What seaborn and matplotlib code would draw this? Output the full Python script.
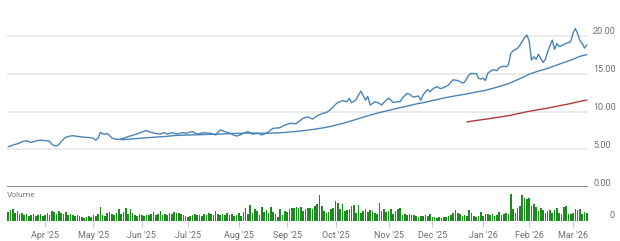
import numpy as np
import pandas as pd
import matplotlib
matplotlib.use("Agg")
import matplotlib.pyplot as plt
import matplotlib.transforms as mtransforms
import seaborn as sns

# ---------------- data ----------------
holidays = ["2025-04-18", "2025-05-26", "2025-06-19", "2025-07-04", "2025-09-01",
            "2025-11-27", "2025-12-25", "2026-01-01", "2026-01-19", "2026-02-16"]
dates = pd.bdate_range("2025-03-10", "2026-03-10", freq="C", holidays=holidays)

close = [
    5.34, 5.42, 5.55, 5.65, 5.72, 5.85, 5.98, 6.08, 6.13, 6.00,
    5.90, 6.00, 6.10, 6.15, 6.20, 6.18, 6.15, 6.12, 6.05, 5.65,
    5.47, 5.45, 5.62, 6.00, 6.35, 6.58, 6.68, 6.75, 6.80, 6.75,
    6.70, 6.67, 6.62, 6.60, 6.58, 6.55, 6.50, 6.45, 6.20, 6.45,
    7.24, 7.05, 6.98, 7.10, 6.80, 6.50, 6.36, 6.30, 6.32, 6.38,
    6.45, 6.55, 6.67, 6.75, 6.85, 6.95, 7.05, 7.15, 7.28, 7.40,
    7.46, 7.35, 7.24, 7.15, 7.10, 7.05, 7.00, 7.15, 7.20, 7.00,
    7.10, 7.20, 7.12, 7.02, 7.05, 7.15, 7.20, 7.10, 7.18, 7.28,
    7.33, 7.15, 7.00, 7.08, 7.15, 7.20, 7.15, 7.12, 7.10, 7.00,
    6.90, 7.25, 7.55, 7.45, 7.33, 7.25, 7.15, 7.00, 6.85, 6.75,
    6.82, 6.95, 7.10, 7.24, 7.33, 7.15, 7.00, 7.05, 7.10, 7.05,
    6.90, 7.00, 7.15, 7.30, 7.60, 7.78, 7.80, 7.82, 7.86, 8.05,
    8.20, 8.30, 8.40, 8.45, 8.38, 8.40, 8.65, 8.90, 9.10, 9.20,
    9.30, 9.15, 9.00, 9.20, 9.44, 9.55, 9.70, 9.80, 9.88, 10.05,
    10.30, 10.60, 10.95, 11.20, 11.30, 11.45, 11.35, 11.30, 11.75, 11.17,
    11.35, 11.60, 12.20, 12.70, 12.10, 11.50, 12.00, 10.86, 11.05, 11.30,
    11.20, 11.05, 10.86, 11.20, 11.50, 11.75, 11.50, 11.20, 11.25, 11.30,
    11.30, 11.80, 12.10, 12.40, 12.30, 12.05, 11.90, 12.00, 12.05, 11.50,
    12.20, 12.60, 12.90, 12.60, 12.95, 13.15, 13.30, 13.10, 13.05, 13.20,
    13.35, 13.50, 13.90, 14.20, 14.15, 14.10, 13.95, 13.75, 13.90, 14.40,
    14.90, 15.06, 15.00, 15.06, 14.40, 14.30, 14.40, 14.10, 15.06, 15.30,
    15.50, 15.50, 15.40, 15.80, 15.95, 16.00, 15.93, 16.16, 17.70, 18.05,
    18.20, 18.40, 18.80, 19.30, 19.80, 20.13, 19.30, 16.80, 17.25, 16.90,
    17.60, 17.00, 16.50, 16.90, 17.90, 18.70, 19.47, 18.24, 19.00, 18.60,
    18.75, 18.85, 19.05, 19.10, 19.25, 20.35, 21.00, 20.30, 19.40, 19.00,
    18.40, 18.85,
]

volume_m = [
    9, 11, 12, 8, 10, 7, 8, 6, 7, 5, 6, 7, 5, 6, 7, 5,
    6, 8, 6, 10, 9, 7, 10, 8, 7, 9, 6, 7, 6, 5, 6, 5, 4, 3, 4, 5, 4, 6,
    5, 7, 14, 6, 5, 8, 9, 7, 6, 8, 12, 7, 9,
    13, 7, 12, 8, 6, 5, 7, 6, 5, 6,
    6, 7, 9, 6, 7, 10, 6, 7, 6, 8, 7, 9, 8, 8, 7, 6, 5, 4, 5, 6,
    7, 6, 6, 5, 7, 6, 8, 7, 6, 10, 7, 6, 7, 6, 8, 6, 7, 5, 6, 8,
    5, 9, 13, 7, 16, 8, 12, 10, 6, 14, 9, 11, 8, 14, 9, 7, 4, 12, 6, 10,
    9, 12, 13, 13, 14,
    13, 14, 10, 12, 13, 13, 12, 15, 17,
    26, 15, 10, 8, 9, 12, 13, 20, 18, 12, 17, 10, 11, 12, 15, 16, 8, 16, 8, 10,
    12, 9, 11, 10, 8, 7, 18,
    10, 12, 9, 10, 12, 7, 10, 12, 13,
    6, 7, 6, 7, 6, 6, 5, 4, 5, 5,
    6, 5, 7, 4, 4, 3, 4, 3, 4, 4,
    5, 6, 8, 11, 8, 7, 5, 6, 5, 11,
    8, 5, 4, 5, 9, 5, 7, 7, 6, 7,
    5, 6, 9, 6, 7, 8, 7,
    27,
    12, 8, 13, 15, 26, 23, 22, 23, 15, 17, 14, 10, 13, 11, 8, 10, 11, 8, 11, 13,
    8, 7, 14, 15, 7, 7, 8, 12, 11, 12, 7, 9, 8,
]

price_ticks = [0, 5, 10, 15, 20]
price_tick_labels = ["0.00", "5.00", "10.00", "15.00", "20.00"]

# ---------------- styling ----------------
sns.set_theme(style="white")
plt.rcParams["font.family"] = ["Roboto", "DejaVu Sans"]

n = min(len(dates), len(close), len(volume_m))
df = pd.DataFrame({
    "idx": np.arange(n),
    "date": dates[:n],
    "close": close[:n],
    "volume": volume_m[:n],
})
df["ma50"] = df["close"].rolling(50).mean()
df["ma200"] = df["close"].rolling(200).mean()

W, H = 620, 241
fig = plt.figure(figsize=(W / 100, H / 100), dpi=100)


def rect(x0, y0, x1, y1):
    return [x0 / W, 1 - y1 / H, (x1 - x0) / W, (y1 - y0) / H]


ax = fig.add_axes(rect(7, 5, 588, 187))
axv = fig.add_axes(rect(7, 191, 588, 221))

xlim = (-0.5, n - 0.5)
grid_c = "#e9e9e9"
text_c = "#6f6f6f"

# price panel
for v in price_ticks[1:]:
    ax.axhline(v, color=grid_c, lw=1.3, zorder=0)
ax.axhline(0, color="#7d7d7d", lw=2.0, zorder=1)

blue = "#4a84b6"
sns.lineplot(data=df, x="idx", y="close", ax=ax, color=blue, lw=1.0, legend=False)
sns.lineplot(data=df, x="idx", y="ma50", ax=ax, color=blue, lw=1.0, legend=False)
sns.lineplot(data=df, x="idx", y="ma200", ax=ax, color="#b03a3a", lw=1.0, legend=False)

ax.set_xlim(*xlim)
ax.set_ylim(0, (187 - 5) / 7.55)
ax.set_xticks([])
ax.set_yticks([])
ax.set_xlabel("")
ax.set_ylabel("")
for s in ax.spines.values():
    s.set_visible(False)

off = mtransforms.ScaledTranslation(0, 1.5 / 100, fig.dpi_scale_trans)
tr = ax.get_yaxis_transform() + off
for v, lab in zip(price_ticks, price_tick_labels):
    ax.text((593 - 7) / 581, v, lab, transform=tr, ha="left", va="baseline",
            fontsize=6.5, color=text_c, clip_on=False)

# volume panel
sns.barplot(data=df, x="idx", y="volume", ax=axv, native_scale=True,
            color="#1f8a1f", saturation=1, width=0.7, linewidth=0, errorbar=None)
axv.set_xlim(*xlim)
axv.set_ylim(0, 30)
axv.set_yticks([])
axv.set_xlabel("")
axv.set_ylabel("")
for s in axv.spines.values():
    s.set_visible(False)

month_first = df.groupby(df["date"].dt.to_period("M"))["idx"].min()
month_first = month_first[month_first > 0]
tick_pos = month_first.values
tick_lab = [pd.Period(p).strftime("%b '%y") for p in month_first.index]
axv.set_xticks(tick_pos)
axv.set_xticklabels(tick_lab)
axv.tick_params(axis="x", bottom=True, length=4, width=0.8, color="#c8c8c8",
                labelsize=6.5, labelcolor=text_c, pad=3)

fig.text(7 / W, 1 - 195 / H, "Volume", fontsize=6, color="#7a7a7a",
         ha="left", va="center")
fig.text(612 / W, 1 - 215 / H, "0", fontsize=6.5, color=text_c,
         ha="center", va="center")

fig.savefig("out.png", dpi=100)
